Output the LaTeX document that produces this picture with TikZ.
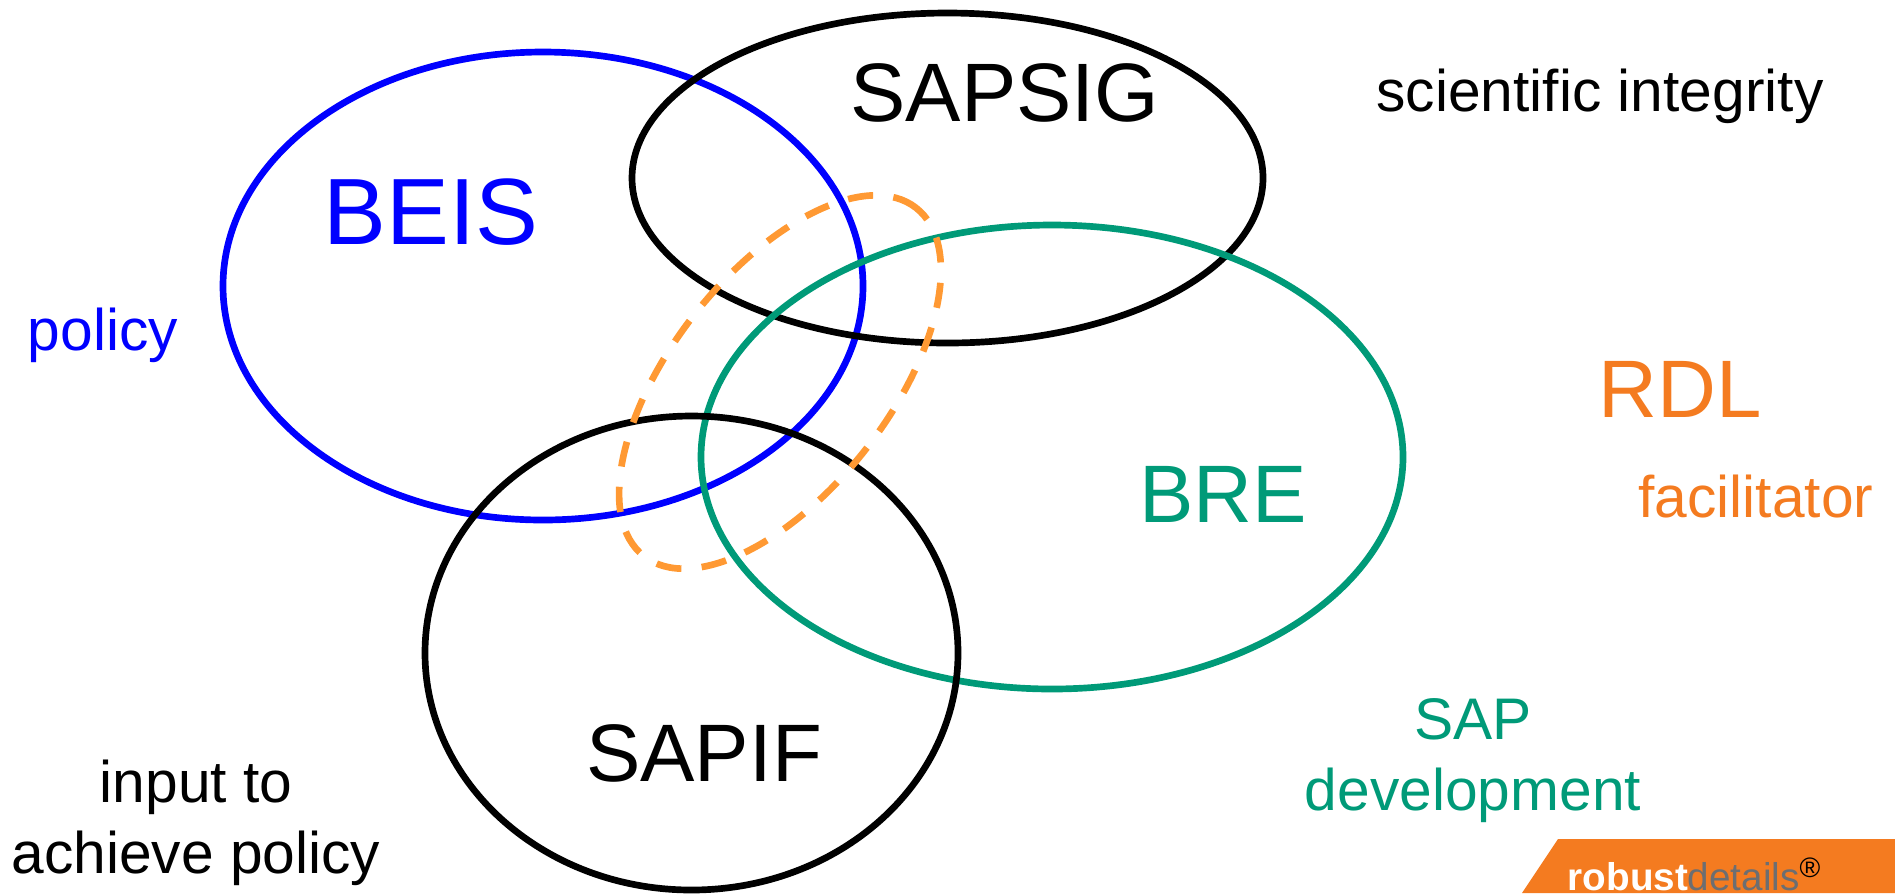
\documentclass[tikz,border=0pt]{standalone}
\usepackage{fontspec}
\setmainfont{Liberation Sans}
\usetikzlibrary{shapes.geometric}
\definecolor{beisblue}{HTML}{0000FF}
\definecolor{bregreen}{HTML}{009A78}
\definecolor{rdlorange}{HTML}{F47B20}
\definecolor{dashorange}{HTML}{FF9933}
\definecolor{logogrey}{HTML}{6D6E71}
\tikzstyle{ring}=[ellipse,draw,line width=1.9pt,inner sep=0pt,outer sep=0pt]
\tikzstyle{bigtext}=[anchor=base,inner sep=0pt,font=\fontsize{23.2}{27}\selectfont]
\tikzstyle{smalltext}=[anchor=base,inner sep=0pt,align=center,font=\fontsize{16.7}{20}\selectfont]

\begin{document}
\begin{tikzpicture}[x=0.1mm,y=-0.1mm]
        \useasboundingbox (0,0) rectangle (1895,893);
        % circles, in the order they overlap
        \node[ring,draw=beisblue,minimum width=64mm,minimum height=46.8mm] (beis) at (543,286) {};
        \node[ring,minimum width=63.1mm,minimum height=33mm] (sapsig) at (947.5,178) {};
        \node[ring,draw=bregreen,minimum width=70.2mm,minimum height=46.4mm] (bre) at (1052,457) {};
        \node[ring,minimum width=53.3mm,minimum height=47.4mm] (sapif) at (691.5,653) {};
        \node[ring,draw=dashorange,dash pattern=on 7.2pt off 5.8pt,minimum width=44.2mm,minimum height=21.8mm,rotate=52] (overlap) at (780,382) {};
        % names
        \node[bigtext,text=beisblue,font=\fontsize{26.8}{30}\selectfont] (beisname) at (431,244) {BEIS};
        \node[bigtext,font=\fontsize{23.6}{27}\selectfont] (sapsigname) at (1005,121) {SAPSIG};
        \node[bigtext,text=bregreen] (brename) at (1223,522) {BRE};
        \node[bigtext] (sapifname) at (704,781) {SAPIF};
        \node[bigtext,text=rdlorange] (rdlname) at (1680,417) {RDL};
        % roles
        \node[smalltext,text=beisblue] (policy) at (103,350) {policy};
        \node[smalltext] (integrity) at (1600,111) {scientific integrity};
        \node[smalltext,text=rdlorange] (facilitator) at (1756,517) {facilitator};
        \node[smalltext,text=bregreen] (sapdev) at (1473,810) {SAP\\development};
        \node[smalltext] (input) at (196,873) {input to\\achieve policy};
        % logo
        \fill[rdlorange] (1558,839) -- (1895,839) -- (1895,893) -- (1522,893) -- cycle;
        \node[anchor=base west,inner sep=0pt,font=\fontsize{11}{13}\selectfont] (logo) at (1567,890) {\textcolor{white}{\textbf{robust}}\textcolor{logogrey}{details}\raisebox{0.6ex}{\fontsize{8}{9}\selectfont ®}};
      \end{tikzpicture}
\end{document}
